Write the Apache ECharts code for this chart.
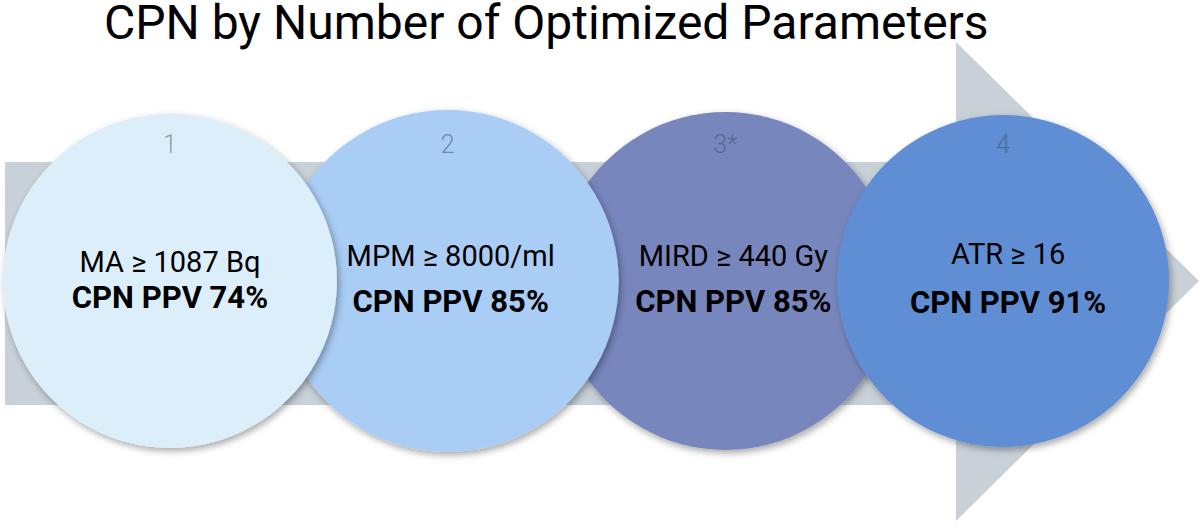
<!DOCTYPE html>
<html>
<head>
<meta charset="utf-8">
<script src="https://cdn.jsdelivr.net/npm/echarts@6/dist/echarts.min.js"></script>
<style>
html,body{margin:0;padding:0;background:#ffffff;}
#chart{width:1200px;height:528px;}
</style>
</head>
<body>
<div id="chart"></div>
<script>
// ---- data ----
const titleText = 'CPN by Number of Optimized Parameters';
const steps = [1, 2, 3, 4];
const stepLabels = ['1', '2', '3*', '4'];
const criteria = ['MA ≥ 1087 Bq', 'MPM ≥ 8000/ml', 'MIRD ≥ 440 Gy', 'ATR ≥ 16'];
const ppvValues = [74, 85, 85, 91];

// ---- style / layout ----
const circleColors = ['#DDEEFB', '#A9CDF5', '#7886BE', '#5F8ED4'];
const drawOrder = [2, 1, 0, 3];   // painting order of the circles (last = on top)
const layout = {
  cy: 281,
  r: [167, 171, 169, 166],
  numY: 144,
  lineY: [[262, 297], [256, 301], [256, 301], [254, 302]],
  textDx: [0, 3, 8, 5]
};
const FONT = 'Roboto, "Noto Sans", sans-serif';

const chart = echarts.init(document.getElementById('chart'), null, {renderer: 'svg'});

const circleData = drawOrder.map(function (i) { return [steps[i], ppvValues[i], i]; });
const labelData = steps.map(function (s, i) { return [s, ppvValues[i], i]; });

const option = {
  backgroundColor: '#ffffff',
  animation: false,
  title: {
    text: titleText,
    left: 104,
    top: 2,
    padding: 0,
    textStyle: {fontFamily: FONT, fontSize: 48, fontWeight: 'normal', color: '#000000', lineHeight: 40}
  },
  grid: {left: 0, right: 0, top: 0, bottom: 0},
  xAxis: {type: 'value', min: 0.388, max: 4.709, show: false},
  yAxis: {type: 'value', min: 0, max: 1, show: false},
  series: [
    {
      type: 'custom',
      silent: true,
      z: 1,
      data: [[0]],
      renderItem: function (params, api) {
        const cy = layout.cy;
        const pts = [
          [5, 162], [956, 162], [956, 42], [1199, cy],
          [956, 521], [956, 405], [5, 405]
        ];
        return {
          type: 'polygon',
          shape: {points: pts},
          style: {fill: '#C9D1D8'}
        };
      }
    },
    {
      type: 'custom',
      silent: true,
      z: 2,
      data: circleData,
      renderItem: function (params, api) {
        const i = api.value(2);
        const cx = api.coord([api.value(0), 0])[0];
        return {
          type: 'circle',
          shape: {cx: cx, cy: layout.cy, r: layout.r[i]},
          style: {
            fill: circleColors[i],
            shadowBlur: 7,
            shadowColor: 'rgba(0,0,0,0.35)',
            shadowOffsetX: 2,
            shadowOffsetY: 3
          }
        };
      }
    },
    {
      type: 'custom',
      silent: true,
      z: 3,
      data: labelData,
      renderItem: function (params, api) {
        const i = api.value(2);
        const cx = api.coord([api.value(0), 0])[0];
        const tx = cx + layout.textDx[i];
        const ly = layout.lineY[i];
        return {
          type: 'group',
          children: [
            {
              type: 'text',
              style: {
                text: stepLabels[i], x: cx, y: layout.numY,
                align: 'center', verticalAlign: 'middle',
                fontFamily: FONT, fontSize: 25, fontWeight: 300,
                fill: 'rgba(50,70,105,0.5)'
              }
            },
            {
              type: 'text',
              style: {
                text: criteria[i], x: tx, y: ly[0],
                align: 'center', verticalAlign: 'middle',
                fontFamily: FONT, fontSize: 29, fontWeight: 'normal',
                fill: '#000000'
              }
            },
            {
              type: 'text',
              style: {
                text: 'CPN PPV ' + api.value(1) + '%', x: tx, y: ly[1],
                align: 'center', verticalAlign: 'middle',
                fontFamily: FONT, fontSize: 31, fontWeight: 'bold',
                fill: '#000000'
              }
            }
          ]
        };
      }
    }
  ]
};
chart.setOption(option);
</script>
</body>
</html>
